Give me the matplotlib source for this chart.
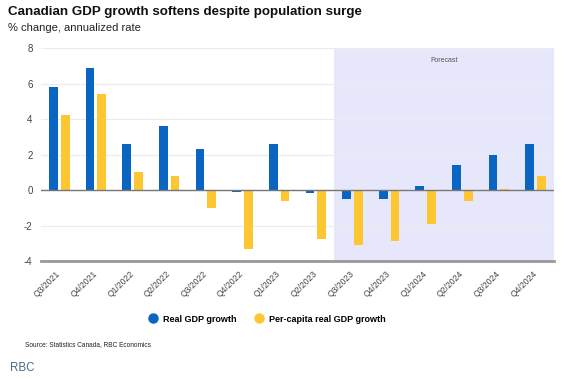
import matplotlib
matplotlib.use("Agg")
import matplotlib.pyplot as plt
import numpy as np

categories = ["Q3/2021", "Q4/2021", "Q1/2022", "Q2/2022", "Q3/2022", "Q4/2022",
              "Q1/2023", "Q2/2023", "Q3/2023", "Q4/2023", "Q1/2024", "Q2/2024",
              "Q3/2024", "Q4/2024"]
real_gdp = [5.8, 6.9, 2.6, 3.6, 2.3, -0.1, 2.6, -0.15, -0.5, -0.5, 0.2, 1.4, 2.0, 2.6]
per_capita = [4.2, 5.4, 1.0, 0.8, -1.0, -3.3, -0.6, -2.75, -3.1, -2.9, -1.9, -0.6, 0.05, 0.8]
y_ticks = [-4, -2, 0, 2, 4, 6, 8]
forecast_start = "Q3/2023"

plt.rcParams['font.family'] = ['Liberation Sans', 'DejaVu Sans']

fig = plt.figure(figsize=(5.74, 3.78), dpi=100)
ax = fig.add_axes([0.0714, 0.3095, 0.8936, 0.5635])

x = np.arange(len(categories))
w = 0.24
off = 0.16
blue = "#0a64c2"
yellow = "#fec631"
ax.bar(x - off, real_gdp, width=w, color=blue, zorder=3, label="Real GDP growth")
ax.bar(x + off, per_capita, width=w, color=yellow, zorder=3, label="Per-capita real GDP growth")

fi = categories.index(forecast_start)
ax.axvspan(fi - 0.5, len(categories) - 0.5, color="#e7e7fb", zorder=0, lw=0)
ax.text((fi - 0.5 + len(categories) - 0.5) / 2, 7.3, "Forecast", ha="center", va="center",
        fontsize=5, color="#555555")

ax.set_xlim(-0.5, len(categories) - 0.5)
ax.set_ylim(-4, 8)
ax.set_yticks(y_ticks)
ax.set_yticklabels([str(v) for v in y_ticks], fontsize=7, color="#444444")
ax.set_xticks(x)
ax.set_xticklabels(categories, rotation=45, ha="right", va="center",
                   rotation_mode="anchor", fontsize=6.2, color="#444444")
ax.tick_params(axis="both", length=0)
ax.tick_params(axis="x", pad=8)
ax.tick_params(axis="y", pad=6)
ax.grid(axis="y", color="#ececec", lw=0.8, zorder=1)
ax.axhline(0, color="#777777", lw=1, zorder=4)
for s in ["top", "right", "left"]:
    ax.spines[s].set_visible(False)
ax.spines["bottom"].set_color("#999999")
ax.spines["bottom"].set_linewidth(2)

fig.text(0.014, 0.967, "Canadian GDP growth softens despite population surge",
         fontsize=9.6, fontweight="bold", va="center", ha="left", color="#111111")
fig.text(0.014, 0.926, "% change, annualized rate", fontsize=8, va="center", ha="left",
         color="#222222")

handles = [plt.Line2D([], [], marker="o", ls="", color=blue, markersize=6.5),
           plt.Line2D([], [], marker="o", ls="", color=yellow, markersize=6.5)]
fig.legend(handles, ["Real GDP growth", "Per-capita real GDP growth"], loc="center",
           bbox_to_anchor=(0.461, 0.156), ncol=2, frameon=False, handletextpad=0.1,
           columnspacing=1.5, prop={"weight": "bold", "size": 6.5})

fig.text(0.044, 0.088, "Source: Statistics Canada, RBC Economics", fontsize=4.7,
         va="center", ha="left", color="#222222")
fig.text(0.017, 0.026, "RBC", fontsize=8.3, va="center", ha="left", color="#4a6a8a")

fig.savefig("out.png", dpi=100)
